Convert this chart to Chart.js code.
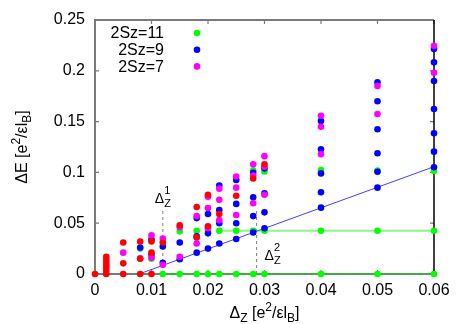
<!DOCTYPE html>
<html>
<head>
<meta charset="utf-8">
<script src="https://cdn.jsdelivr.net/npm/chart.js@4.4.0/dist/chart.umd.min.js"></script>
<style>
  body { margin: 0; background: #fff; }
</style>
</head>
<body>
<canvas id="chart" width="463" height="324"></canvas>
<script>
// axis ticks
const xTicks = [0, 0.01, 0.02, 0.03, 0.04, 0.05, 0.06];
const xTickLabels = ['0', '0.01', '0.02', '0.03', '0.04', '0.05', '0.06'];
const yTicks = [0, 0.05, 0.1, 0.15, 0.2, 0.25];
const yTickLabels = ['0', '0.05', '0.1', '0.15', '0.2', '0.25'];

const legendNames = ['2Sz=11', '2Sz=9', '2Sz=7'];

// [Delta_Z, Delta_E]
const greenPts = [
    [0.008, 0.025], [0.010, 0.015], [0.012, 0],
    [0.015, 0.042], [0.015, 0], [0.018, 0.0426], [0.018, 0],
    [0.020, 0.0426], [0.020, 0], [0.022, 0.0426], [0.022, 0],
    [0.025, 0.0426], [0.025, 0], [0.028, 0.102], [0.028, 0.0426], [0.028, 0],
    [0.030, 0.101], [0.030, 0.0426], [0.030, 0],
    [0.04, 0.1024], [0.04, 0.0426], [0.04, 0],
    [0.05, 0.1017], [0.05, 0.0426], [0.05, 0],
    [0.06, 0.1014], [0.06, 0.0426], [0.06, 0]
];
const bluePts = [
    [0.008, 0.026],
    [0.010, 0.034], [0.010, 0.019],
    [0.012, 0.027], [0.012, 0.011],
    [0.015, 0.031], [0.015, 0.0145],
    [0.018, 0.055], [0.018, 0.037], [0.018, 0.021],
    [0.020, 0.059], [0.020, 0.040], [0.020, 0.025],
    [0.022, 0.087], [0.022, 0.063], [0.022, 0.050], [0.022, 0.030],
    [0.025, 0.0925], [0.025, 0.069], [0.025, 0.050], [0.025, 0.0345],
    [0.028, 0.0997], [0.028, 0.0755], [0.028, 0.057], [0.028, 0.0408],
    [0.030, 0.104], [0.030, 0.0794], [0.030, 0.0607], [0.030, 0.045],
    [0.04, 0.1506], [0.04, 0.1227], [0.04, 0.099], [0.04, 0.0804], [0.04, 0.0653],
    [0.05, 0.1887], [0.05, 0.170], [0.05, 0.1424], [0.05, 0.1188], [0.05, 0.1007], [0.05, 0.085],
    [0.06, 0.2215], [0.06, 0.2084], [0.06, 0.190], [0.06, 0.1624], [0.06, 0.1385], [0.06, 0.1204], [0.06, 0.105]
];
const magentaPts = [
    [0.005, 0.021], [0.008, 0.0155],
    [0.010, 0.038], [0.010, 0.016],
    [0.012, 0.035], [0.012, 0.009],
    [0.015, 0.046], [0.015, 0.017],
    [0.018, 0.057], [0.018, 0.030],
    [0.020, 0.076], [0.020, 0.065], [0.020, 0.045],
    [0.022, 0.084], [0.022, 0.073], [0.022, 0.053],
    [0.025, 0.096], [0.025, 0.085], [0.025, 0.058],
    [0.028, 0.108], [0.028, 0.097], [0.028, 0.0696],
    [0.030, 0.116], [0.030, 0.1056], [0.030, 0.078],
    [0.04, 0.1558], [0.04, 0.145], [0.04, 0.1178],
    [0.05, 0.185], [0.05, 0.1575],
    [0.06, 0.2247], [0.06, 0.1981]
];
const redPts = [
    [0, 0],
    [0.002, 0], [0.002, 0.003], [0.002, 0.006], [0.002, 0.0085], [0.002, 0.011], [0.002, 0.014], [0.002, 0.017],
    [0.005, 0], [0.005, 0.0105], [0.005, 0.031],
    [0.008, 0], [0.008, 0.015], [0.008, 0.032],
    [0.010, 0], [0.010, 0.021], [0.010, 0.032],
    [0.012, 0.031],
    [0.015, 0.048],
    [0.018, 0.066], [0.018, 0.036],
    [0.020, 0.078], [0.020, 0.047],
    [0.022, 0.059],
    [0.025, 0.077],
    [0.028, 0.094],
    [0.030, 0.108]
];

// guide lines
const blueLineX = [0.0078, 0.06];
const blueLineY = [0, 0.1056];
const greenLow = [[0.012, 0], [0.06, 0]];
const greenHigh = [[0.022, 0.0426], [0.06, 0.0426]];
const dashZ1 = [[0.012, 0], [0.012, 0.062]];
const dashZ2 = [[0.0286, 0], [0.0286, 0.063]];

const FONT = '"Liberation Sans", Arial, sans-serif';

function pts(arr) {
    return arr.map(p => ({ x: p[0], y: p[1] }));
}

function scatterSet(label, arr, color, order) {
    return {
        type: 'scatter',
        label: label,
        data: pts(arr),
        backgroundColor: color,
        borderColor: color,
        borderWidth: 0,
        pointRadius: 3.3,
        clip: false,
        order: order
    };
}

function lineSet(arr, color, width, dash) {
    return {
        type: 'line',
        data: pts(arr),
        borderColor: color,
        borderWidth: width,
        borderDash: dash || [],
        pointRadius: 0,
        fill: false,
        clip: false,
        order: 10
    };
}

// draw text with sub/superscripts, centred on x
function drawRich(ctx, parts, x, y, size) {
    const small = Math.round(size * 0.72);
    let w = 0;
    parts.forEach(p => {
        ctx.font = (p[1] ? small : size) + 'px ' + FONT;
        w += ctx.measureText(p[0]).width;
    });
    let cx = x - w / 2;
    ctx.textAlign = 'left';
    ctx.textBaseline = 'alphabetic';
    parts.forEach(p => {
        ctx.font = (p[1] ? small : size) + 'px ' + FONT;
        let dy = 0;
        if (p[1] === 'sup') dy = -size * 0.42;
        if (p[1] === 'sub') dy = size * 0.28;
        ctx.fillText(p[0], cx, y + dy);
        cx += ctx.measureText(p[0]).width;
    });
}

function drawDelta(ctx, x, y, sup) {
    const size = 14;
    ctx.textAlign = 'left';
    ctx.textBaseline = 'alphabetic';
    ctx.font = size + 'px ' + FONT;
    ctx.fillText('\u0394', x, y);
    const w = ctx.measureText('\u0394').width;
    ctx.font = '11px ' + FONT;
    ctx.fillText(sup, x + w, y - 9);
    ctx.fillText('Z', x + w, y + 4);
}

const framePlugin = {
    id: 'frame',
    beforeDatasetsDraw(chart) {
        const ctx = chart.ctx;
        const a = chart.chartArea;
        const xs = chart.scales.x, ys = chart.scales.y;
        ctx.save();
        ctx.strokeStyle = '#7a7a7a';
        ctx.lineWidth = 2;
        ctx.beginPath();
        ctx.moveTo(a.right, a.top);
        ctx.lineTo(a.left, a.top);
        ctx.lineTo(a.left, a.bottom);
        ctx.lineTo(a.right, a.bottom);
        ctx.stroke();
        ctx.lineWidth = 1.2;
        ctx.beginPath();
        xTicks.forEach(v => {
            const px = xs.getPixelForValue(v);
            ctx.moveTo(px, a.bottom);
            ctx.lineTo(px, a.bottom - 4);
            ctx.moveTo(px, a.top);
            ctx.lineTo(px, a.top + 4);
        });
        yTicks.forEach(v => {
            const py = ys.getPixelForValue(v);
            ctx.moveTo(a.left, py);
            ctx.lineTo(a.left + 4, py);
            ctx.moveTo(a.right, py);
            ctx.lineTo(a.right - 4, py);
        });
        ctx.stroke();
        ctx.strokeStyle = '#000';
        ctx.lineWidth = 1.5;
        ctx.beginPath();
        ctx.moveTo(a.right, a.top);
        ctx.lineTo(a.right, a.bottom);
        ctx.stroke();
        ctx.restore();
    },
    afterDraw(chart) {
        const ctx = chart.ctx;
        const a = chart.chartArea;
        const xs = chart.scales.x, ys = chart.scales.y;
        ctx.save();
        ctx.fillStyle = '#000';

        // axis titles
        drawRich(ctx, [['\u0394', ''], ['Z', 'sub'], [' [e', ''], ['2', 'sup'], ['/\u03b5l', ''], ['B', 'sub'], [']', '']],
            (a.left + a.right) / 2, 318, 16);
        ctx.save();
        ctx.translate(27, (a.top + a.bottom) / 2);
        ctx.rotate(-Math.PI / 2);
        drawRich(ctx, [['\u0394E [e', ''], ['2', 'sup'], ['/\u03b5l', ''], ['B', 'sub'], [']', '']], 0, 0, 16);
        ctx.restore();

        // Delta_Z labels
        drawDelta(ctx, xs.getPixelForValue(dashZ1[0][0]) - 8, ys.getPixelForValue(0.0695), '1');
        drawDelta(ctx, xs.getPixelForValue(dashZ2[0][0]) + 8, ys.getPixelForValue(0.0138), '2');

        // legend: text right aligned, point to the right
        const sets = [greenColor, blueColor, magentaColor];
        ctx.font = '16px ' + FONT;
        ctx.textAlign = 'right';
        ctx.textBaseline = 'middle';
        legendNames.forEach((name, i) => {
            const y = a.top + 13 + i * 16.7;
            ctx.fillStyle = '#000';
            ctx.fillText(name, a.left + 69, y + 1);
            ctx.fillStyle = sets[i];
            ctx.beginPath();
            ctx.arc(a.left + 102, y, 3.3, 0, Math.PI * 2);
            ctx.fill();
        });
        ctx.restore();
    }
};

const greenColor = '#00ff00';
const blueColor = '#0000ff';
const magentaColor = '#ff00ff';
const redColor = '#ff0000';

new Chart(document.getElementById('chart'), {
    type: 'scatter',
    data: {
        datasets: [
            scatterSet('2Sz=11', greenPts, greenColor, 4),
            scatterSet('2Sz=9', bluePts, blueColor, 3),
            scatterSet('2Sz=7', magentaPts, magentaColor, 2),
            scatterSet('', redPts, redColor, 1),
            lineSet(greenLow, 'rgba(0,230,0,0.45)', 2),
            lineSet(greenHigh, 'rgba(0,230,0,0.45)', 2),
            lineSet(blueLineX.map((x, i) => [x, blueLineY[i]]), 'rgba(0,0,255,0.75)', 1),
            lineSet(dashZ1, '#808080', 1, [3, 3]),
            lineSet(dashZ2, '#808080', 1, [3, 3])
        ]
    },
    options: {
        responsive: false,
        animation: false,
        devicePixelRatio: 1,
        layout: { padding: { top: 20, right: 29, left: 0, bottom: 0 } },
        plugins: { legend: { display: false }, tooltip: { enabled: false } },
        scales: {
            x: {
                type: 'linear',
                min: 0,
                max: 0.06,
                grid: { display: false, drawTicks: false },
                border: { display: false },
                afterBuildTicks: s => { s.ticks = xTicks.map(v => ({ value: v })); },
                afterFit: s => { s.height = 50; },
                ticks: {
                    color: '#000',
                    padding: 7,
                    maxRotation: 0,
                    font: { family: FONT, size: 16 },
                    callback: (v, i) => xTickLabels[i]
                }
            },
            y: {
                type: 'linear',
                min: 0,
                max: 0.25,
                grid: { display: false, drawTicks: false },
                border: { display: false },
                afterBuildTicks: s => { s.ticks = yTicks.map(v => ({ value: v })); },
                afterFit: s => { s.width = 95; },
                ticks: {
                    color: '#000',
                    padding: 10,
                    font: { family: FONT, size: 16 },
                    callback: (v, i) => yTickLabels[i]
                }
            }
        }
    },
    plugins: [framePlugin]
});
</script>
</body>
</html>
